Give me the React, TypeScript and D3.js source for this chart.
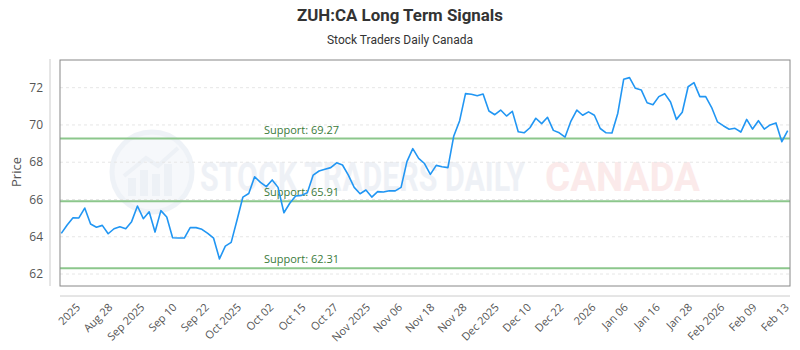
import React from "react";
import * as d3 from "d3";

const prices: number[] = [
  64.18, 64.63, 65.02, 65.01, 65.54, 64.68, 64.51, 64.61, 64.16, 64.43,
  64.54, 64.43, 64.81, 65.65, 64.97, 65.34, 64.25, 65.4, 65.06, 63.95,
  63.93, 63.93, 64.49, 64.49, 64.4, 64.18, 63.92, 62.81, 63.5, 63.7,
  64.9, 66.13, 66.32, 67.22, 66.92, 66.69, 67.05, 66.65, 65.29, 65.8,
  66.19, 66.22, 66.36, 67.31, 67.53, 67.62, 67.71, 67.97, 67.85, 67.31,
  66.65, 66.31, 66.51, 66.13, 66.42, 66.4, 66.47, 66.46, 66.65, 68.03,
  68.73, 68.21, 67.93, 67.35, 67.83, 67.76, 67.71, 69.41, 70.23, 71.68,
  71.65, 71.57, 71.66, 70.75, 70.55, 70.8, 70.48, 70.73, 69.64, 69.58,
  69.85, 70.36, 70.07, 70.41, 69.71, 69.58, 69.35, 70.21, 70.8, 70.52,
  70.7, 70.52, 69.81, 69.58, 69.57, 70.63, 72.45, 72.54, 71.97, 71.88,
  71.19, 71.09, 71.52, 71.68, 71.23, 70.3, 70.68, 72.05, 72.27, 71.52,
  71.52, 70.95, 70.17, 69.96, 69.77, 69.82, 69.62, 70.3, 69.78, 70.23,
  69.78, 70.0, 70.11, 69.1, 69.69,
];

const xLabels: string[] = [
  "2025", "Aug 28", "Sep 2025", "Sep 10", "Sep 22", "Oct 2025", "Oct 02",
  "Oct 15", "Oct 27", "Nov 2025", "Nov 06", "Nov 18", "Nov 28", "Dec 2025",
  "Dec 10", "Dec 22", "2026", "Jan 06", "Jan 16", "Jan 28", "Feb 2026",
  "Feb 09", "Feb 13",
];

const yTicks: number[] = [62, 64, 66, 68, 70, 72];
const supports: number[] = [69.27, 65.91, 62.31];

const W = 800;
const H = 350;
const plotL = 60;
const plotR = 790;
const plotT = 60;
const plotB = 286;

export default function App() {
  const x = d3.scaleLinear().domain([0, prices.length - 1]).range([61.3, 787.7]);
  const y = d3.scaleLinear().domain([61.356, 73.487]).range([plotB, plotT]);
  const labelScale = d3
    .scaleLinear()
    .domain([0, xLabels.length - 1])
    .range([x(3), x(prices.length - 1)]);

  const line = d3
    .line<number>()
    .x((_, i) => x(i))
    .y((d) => y(d));

  const font = "Roboto, 'Open Sans', sans-serif";
  const axisFont = "'Open Sans', Roboto, sans-serif";

  return (
    <svg
      width={W}
      height={H}
      style={{ position: "absolute", left: 0, top: 0, background: "#fff" }}
      fontFamily={font}
    >
      <rect x={0} y={0} width={W} height={H} fill="#fff" />
      <text
        x={400}
        y={21}
        textAnchor="middle"
        fontSize={17}
        fontWeight={700}
        fill="#333"
        textLength={206}
        lengthAdjust="spacingAndGlyphs"
      >
        ZUH:CA Long Term Signals
      </text>
      <text x={400} y={44} textAnchor="middle" fontSize={12} fill="#333">
        Stock Traders Daily Canada
      </text>

      {/* watermark */}
      <g opacity={0.5}>
        <circle cx={152} cy={172} r={40} fill="#eef2f8" stroke="#dfe6f0" strokeWidth={5} />
        <rect x={128} y={178} width={8} height={18} fill="#dde4ee" />
        <rect x={140} y={170} width={8} height={26} fill="#dde4ee" />
        <rect x={152} y={174} width={8} height={22} fill="#dde4ee" />
        <rect x={164} y={164} width={8} height={32} fill="#dde4ee" />
        <path d="M124,176 L146,158 L158,166 L178,148" fill="none" stroke="#dde4ee" strokeWidth={4} />
        <text
          x={200}
          y={191}
          fontSize={40}
          fontWeight={700}
          fill="#dfe5ee"
          textLength={325}
          lengthAdjust="spacingAndGlyphs"
        >
          STOCK TRADERS DAILY
        </text>
        <text
          x={545}
          y={191}
          fontSize={40}
          fontWeight={700}
          fill="#f8d6d6"
          textLength={155}
          lengthAdjust="spacingAndGlyphs"
        >
          CANADA
        </text>
      </g>

      {yTicks.map((t) => (
        <line
          key={"g" + t}
          x1={plotL}
          x2={plotR}
          y1={y(t)}
          y2={y(t)}
          stroke="#e6e6e6"
          strokeDasharray="3,3"
        />
      ))}

      {supports.map((s) => (
        <g key={"s" + s}>
          <line x1={plotL} x2={plotR} y1={y(s)} y2={y(s)} stroke="#8cc78c" strokeWidth={2} />
          <text x={264} y={y(s) - 5} fontSize={11} fill="#3a7a3a" fontFamily={axisFont}>
            {"Support: " + s.toFixed(2)}
          </text>
        </g>
      ))}

      <path d={line(prices) || ""} fill="none" stroke="#2196f3" strokeWidth={1.6} strokeLinejoin="round" />

      <rect
        x={plotL}
        y={plotT}
        width={plotR - plotL}
        height={plotB - plotT}
        fill="none"
        stroke="#888"
        strokeWidth={1}
      />

      <line x1={50} x2={50} y1={59} y2={plotB} stroke="#ccc" />
      {yTicks.map((t) => (
        <text
          key={"yt" + t}
          x={43}
          y={y(t)}
          dy="0.35em"
          textAnchor="end"
          fontSize={12}
          fill="#555"
          fontFamily={axisFont}
        >
          {t}
        </text>
      ))}
      <text
        transform={`translate(21,172) rotate(-90)`}
        textAnchor="middle"
        fontSize={13}
        fill="#555"
        fontFamily={axisFont}
      >
        Price
      </text>

      <line x1={plotL} x2={plotR} y1={296} y2={296} stroke="#ccc" />
      {xLabels.map((lab, i) => (
        <text
          key={"xl" + i}
          transform={`translate(${labelScale(i) + 2},308) rotate(-45)`}
          textAnchor="end"
          fontSize={11}
          fill="#555"
          fontFamily={axisFont}
        >
          {lab}
        </text>
      ))}
    </svg>
  );
}
